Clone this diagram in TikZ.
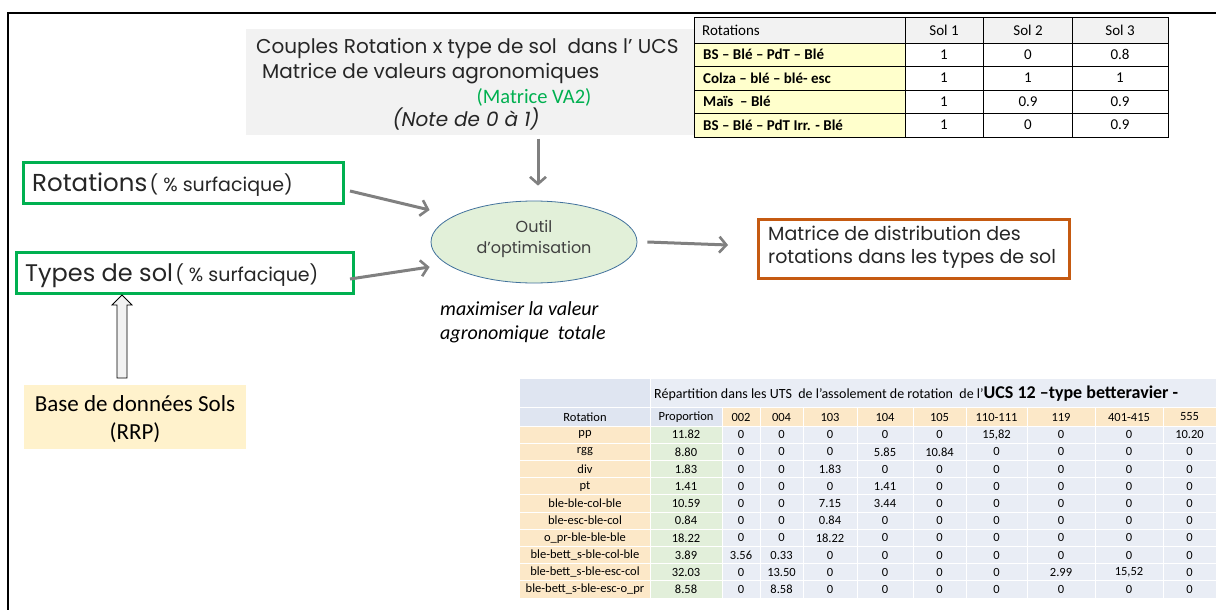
\documentclass[tikz,border=0pt]{standalone}
\usepackage{fontspec}
\setmainfont{Carlito}
\newfontfamily\gothic{Poppins}
\usetikzlibrary{arrows.meta,shapes.geometric}
\definecolor{greybox}{HTML}{F2F2F2}
\definecolor{vagreen}{HTML}{00B050}
\definecolor{ellgreen}{HTML}{E2F0D9}
\definecolor{ellblue}{HTML}{41719C}
\definecolor{orangeb}{HTML}{C55A11}
\definecolor{creambox}{HTML}{FFF2CC}
\definecolor{tblyellow}{HTML}{FFFFCC}
\definecolor{lavA}{HTML}{DFE5F1}
\definecolor{lavB}{HTML}{E9EDF5}
\definecolor{creamc}{HTML}{FCE8C8}
\definecolor{propg}{HTML}{E2EFDA}
\definecolor{arrgrey}{HTML}{808080}
\definecolor{txtdark}{HTML}{262626}
\tikzset{
  garrow/.style={draw=arrgrey, line width=3pt, -{Straight Barb[length=7pt,width=16pt,line width=2.6pt]}},
  gbox/.style={draw=vagreen, line width=3pt, anchor=north west, inner sep=0pt},
  tcell/.style={draw=black, line width=0.9pt},
  tt/.style={font=\fontsize{15}{17}\selectfont, inner sep=0pt},
  bcell/.style={draw=white, line width=1pt},
  bt/.style={font=\fontsize{12.5}{15}\selectfont, inner sep=0pt},
  gfont/.style={font=\gothic\fontsize{20}{22}\selectfont, text=txtdark, inner sep=0pt}
}
\begin{document}
\begin{tikzpicture}[x=1pt,y=-1pt]
\useasboundingbox (0,0) rectangle (1216,610);
\fill[white] (0,0) rectangle (1216,610);
% frame
\draw[line width=2pt] (8,611) -- (8,13) -- (1217,13);

% grey box
\node[fill=greybox, minimum width=451pt, minimum height=106pt, anchor=north west, inner sep=0pt] (couples) at (246,29) {};
\node[gfont, anchor=base west] (c1) at (256,54) {Couples Rotation x type de sol\ \ dans l’ UCS};
\node[gfont, anchor=base west] (c2) at (262,79) {Matrice de valeurs agronomiques};
\node[font=\fontsize{20.5}{22}\selectfont, text=vagreen, anchor=base, inner sep=0pt] (c3) at (534,103) {(Matrice VA2)};
\node[gfont, font=\gothic\itshape\fontsize{20}{22}\selectfont, anchor=base] (c4) at (466,126) {(Note de 0 à 1)};

% top right table
\fill[greybox] (694,17) rectangle (1168,43);
\fill[tblyellow] (694,43) rectangle (905,137);
\foreach \ya/\yb in {17/43,43/66,66/90,90/113,113/137}{
  \foreach \xa/\xb in {694/905,905/983,983/1072,1072/1168}{
    \draw[tcell] (\xa,\ya) rectangle (\xb,\yb);
  }
}
\node[tt, anchor=west] (h0) at (702,30) {Rotations};
\node[tt] (h1) at (944,30) {Sol 1};
\node[tt] (h2) at (1028,30) {Sol 2};
\node[tt] (h3) at (1120,30) {Sol 3};
\foreach \nm/\a/\b/\c [count=\r] in {{BS – Blé – PdT – Blé}/1/0/0.8,{Colza – blé – blé- esc}/1/1/1,{Maïs\ \ – Blé}/1/0.9/0.9,{BS – Blé – PdT Irr. - Blé}/1/0/0.9}{
  \pgfmathsetmacro\yy{54.5+23.5*(\r-1)}
  \node[tt, anchor=west, font=\bfseries\fontsize{15}{17}\selectfont] (tr\r) at (703,\yy) {\nm};
  \node[tt] (tr\r a) at (944,\yy) {\a};
  \node[tt] (tr\r b) at (1028,\yy) {\b};
  \node[tt] (tr\r c) at (1120,\yy) {\c};
}

% input boxes
\node[gbox, minimum width=320pt, minimum height=41pt] (rot) at (22,161) {};
\node[anchor=base west, inner sep=0pt, text=txtdark] (rott) at (32,191) {{\gothic\fontsize{24.5}{28}\selectfont Rotations} {\gothic\fontsize{19}{20}\selectfont ( \% surfacique)}};
\node[gbox, minimum width=337pt, minimum height=41pt] (typ) at (15,251) {};
\node[anchor=base west, inner sep=0pt, text=txtdark] (typt) at (25,281) {{\gothic\fontsize{24}{28}\selectfont Types de sol} {\gothic\fontsize{19}{20}\selectfont ( \% surfacique)}};

% optimisation ellipse
\node[ellipse, draw=ellblue, line width=0.8pt, fill=ellgreen, minimum width=206pt, minimum height=82pt, inner sep=0pt] (opt) at (534,242) {};
\node[font=\gothic\fontsize{16}{21}\selectfont, text=black!75, align=center, inner sep=0pt] (optt) at (534,239) {Outil\\d’optimisation};

% objective
\node[anchor=north west, align=left, inner sep=0pt, font=\itshape\fontsize{20}{24}\selectfont] (maxi) at (440,301) {maximiser la valeur\\agronomique\ \ totale};

% output box
\node[draw=orangeb, line width=3pt, anchor=north west, minimum width=311pt, minimum height=59pt, inner sep=0pt] (mat) at (757,218) {};
\node[anchor=north west, align=left, inner sep=0pt, font=\gothic\fontsize{19}{23}\selectfont, text=txtdark] (matt) at (768,226) {Matrice de distribution des\\rotations dans les types de sol};

% base de donnees
\node[fill=creambox, anchor=north west, minimum width=222pt, minimum height=64pt, inner sep=0pt] (base) at (24,385) {};
\node[align=center, inner sep=0pt, font=\fontsize{23}{28}\selectfont] (baset) at (135,419) {Base de données Sols\\(RRP)};

% hollow arrow
\draw[fill=greybox, line width=0.8pt] (117,378) -- (117,305) -- (112,305) -- (122,295) -- (132,305) -- (127,305) -- (127,378) -- cycle;

% connectors
\draw[garrow] ([xshift=4pt,yshift=62pt]opt.north) -- ([xshift=4pt,yshift=15pt]opt.north);
\draw[garrow] ([xshift=5pt,yshift=-8pt]rot.east) -- ([xshift=-1pt,yshift=32pt]opt.west);
\draw[garrow] ([xshift=-5pt,yshift=-6pt]typ.east) -- ([xshift=-1pt,yshift=-25pt]opt.west);
\draw[garrow] ([xshift=10pt]opt.east) -- ([xshift=-29pt,yshift=4pt]mat.west);

% bottom table
\fill[lavA] (519,378) rectangle (650,407);
\fill[lavB] (650,378) rectangle (1216,407);
\draw[white, line width=1pt] (519,378) rectangle (650,407) (650,378) rectangle (1216,407);
\node[anchor=west, inner sep=0pt] (btitle) at (654,394) {{\fontsize{14}{16}\selectfont Répartition dans les UTS\ \ de l’assolement de rotation\ \ de l’}{\bfseries\fontsize{18}{19}\selectfont UCS 12 –type betteravier -}};
\foreach \xa/\xb [count=\c] in {519/650,650/722,722/760,760/803,803/857,857/913,913/966,966/1027,1027/1095,1095/1163,1163/1216}{
  \ifnum\c<3 \def\hc{lavA}\else\def\hc{creamc}\fi
  \filldraw[bcell, fill=\hc] (\xa,407) rectangle (\xb,426);
  \ifnum\c=1 \def\dc{creamc}\else\ifnum\c=2 \def\dc{propg}\else\def\dc{lavB}\fi\fi
  \foreach \r in {0,...,9}{
    \pgfmathsetmacro\ya{426+17.2*\r}
    \pgfmathsetmacro\yb{426+17.2*(\r+1)}
    \filldraw[bcell, fill=\dc] (\xa,\ya) rectangle (\xb,\yb);
  }
}
\def\cxs{{686,741,781.5,830,885,939.5,996.5,1061,1129,1189.5}}
\node[bt] (bh0) at (585,417) {Rotation};
\foreach \hh [count=\c] in {Proportion,002,004,103,104,105,110-111,119,401-415,555}{
  \pgfmathsetmacro\cx{\cxs[\c-1]}
  \node[bt] (bh\c) at (\cx,417) {\hh};
}
\foreach \nm/\vals [count=\r] in {
  pp/{11.82,0,0,0,0,0,{15,82},0,0,10.20},
  rgg/{8.80,0,0,0,5.85,10.84,0,0,0,0},
  div/{1.83,0,0,1.83,0,0,0,0,0,0},
  pt/{1.41,0,0,0,1.41,0,0,0,0,0},
  ble-ble-col-ble/{10.59,0,0,7.15,3.44,0,0,0,0,0},
  ble-esc-ble-col/{0.84,0,0,0.84,0,0,0,0,0,0},
  o\_pr-ble-ble-ble/{18.22,0,0,18.22,0,0,0,0,0,0},
  ble-bett\_s-ble-col-ble/{3.89,3.56,0.33,0,0,0,0,0,0,0},
  ble-bett\_s-ble-esc-col/{32.03,0,13.50,0,0,0,0,2.99,{15,52},0},
  ble-bett\_s-ble-esc-o\_pr/{8.58,0,8.58,0,0,0,0,0,0,0}}{
  \pgfmathsetmacro\yy{434.6+17.2*(\r-1)}
  \node[bt] (br\r) at (585,\yy) {\nm};
  \foreach \v [count=\c] in \vals {
    \pgfmathsetmacro\cx{\cxs[\c-1]}
    \node[bt] (b\r-\c) at (\cx,\yy) {\v};
  }
}
\end{tikzpicture}
\end{document}
